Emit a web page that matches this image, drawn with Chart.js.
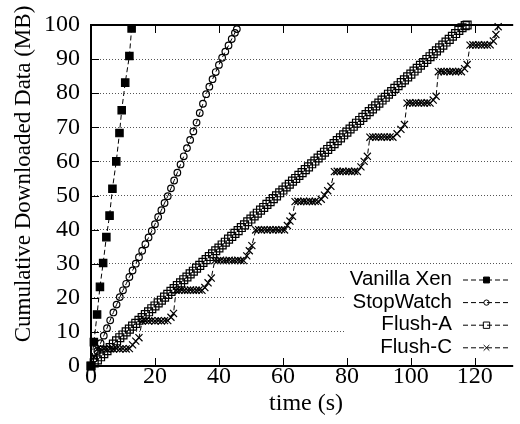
<!DOCTYPE html>
<html><head><meta charset="utf-8">
<script src="https://cdn.jsdelivr.net/npm/chart.js@4/dist/chart.umd.min.js"></script>
<style>html,body{margin:0;padding:0;background:#fff}#wrap{width:520px;height:424px}</style>
</head><body><div id="wrap"><canvas id="c" width="520" height="424"></canvas></div>
<script>
const seriesNames = ['Vanilla Xen', 'StopWatch', 'Flush-A', 'Flush-C'];
const xTickValues = [0, 20, 40, 60, 80, 100, 120];
const yTickValues = [0, 10, 20, 30, 40, 50, 60, 70, 80, 90, 100];
const xTitle = 'time (s)';
const yTitle = 'Cumulative Downloaded Data (MB)';

const vanillaTime = [0, 0.9, 1.9, 2.8, 3.8, 4.8, 5.8, 6.7, 7.9, 8.9, 9.6, 10.7, 12.0, 12.7];
const vanillaData = [0, 7, 15.1, 23.2, 30.2, 37.8, 44.1, 52, 60, 68.3, 75, 83.1, 90.9, 99];

const stopTime = [0,1,2,3,4,5,6,7,8,9,10,11,12,13,14,15,16,17,18,19,20,21,22,23,24,25,26,27,28,29,30,31,32,33,34,35,36,37,38,39,40,41,42,43,44,45,45.6];
const stopData = [0,2.2,4.4,6.7,8.9,11.1,13.4,15.7,18,20.2,22.2,24.1,26.1,28,30,31.9,33.8,35.7,37.7,39.6,41.6,43.7,45.7,47.8,49.8,52.1,54.4,56.7,59.1,61.5,63.9,66.3,68.8,71.4,74.2,76.9,79.7,81.9,84.1,86.2,88.3,90.4,92.2,94,95.9,97.7,98.8];

const flushATime = [0,1,2,3,4,5,6,7,8,9,10,11,12,13,14,15,16,17,18,19,20,21,22,23,24,25,26,27,28,29,30,31,32,33,34,35,36,37,38,39,40,41,42,43,44,45,46,47,48,49,50,51,52,53,54,55,56,57,58,59,60,61,62,63,64,65,66,67,68,69,70,71,72,73,74,75,76,77,78,79,80,81,82,83,84,85,86,87,88,89,90,91,92,93,94,95,96,97,98,99,100,101,102,103,104,105,106,107,108,109,110,111,112,113,114,115,116,117,117.6];
const flushAData = [0,0.9,1.8,2.7,3.6,4.5,5.4,6.4,7.4,8.3,9.1,10,10.8,11.7,12.5,13.4,14.2,15.1,15.9,16.8,17.6,18.5,19.3,20.2,21,21.9,22.7,23.6,24.4,25.3,26.1,27,27.8,28.7,29.5,30.4,31.2,32.1,32.9,33.8,34.6,35.5,36.3,37.2,38,38.9,39.7,40.6,41.4,42.3,43.1,44,44.8,45.7,46.5,47.4,48.2,49.1,49.9,50.8,51.6,52.5,53.3,54.2,55,55.9,56.7,57.6,58.4,59.3,60.1,61,61.8,62.7,63.5,64.4,65.2,66.1,66.9,67.8,68.6,69.5,70.3,71.2,72,72.9,73.7,74.6,75.4,76.3,77.1,78,78.8,79.7,80.5,81.4,82.2,83.1,83.9,84.8,85.6,86.5,87.3,88.2,89,89.9,90.7,91.6,92.4,93.3,94.1,95,95.8,96.7,97.5,98.4,99.2,99.8,100];

const flushCTime = [0,1,2,3,4,5,6,7,8,9,10,11,12,13,14,15,16,17,18,19,20,21,22,23,24,25,25.8,26.6,27.5,28.4,29.3,30.2,31.1,32,32.9,33.8,34.7,35.6,36.6,37.6,38.7,39.6,40.5,41.4,42.3,43.2,44.1,45,45.9,46.8,47.7,48.7,49.5,50.3,51.5,52.4,53.3,54.2,55.1,56,56.9,57.8,58.7,59.6,60.5,61.4,62.2,63,63.8,64.7,65.6,66.5,67.4,68.3,69.2,70.1,71,72,73,74,75,76.1,77,77.9,78.8,79.7,80.6,81.5,82.4,83.3,84.4,85.4,86.4,87.2,88.1,89,89.9,90.8,91.7,92.6,93.5,94.4,95.7,96.9,98,98.8,99.7,100.6,101.5,102.4,103.3,104.2,105.1,106,107,107.9,108.6,109.5,110.4,111.3,112.2,113.1,114,114.9,115.8,116.8,117.6,118.5,119.4,120.3,121.2,122.1,123,123.9,124.8,125.8,126.6,127.3];
const flushCData = [0,2.6,5,5,5.1,5,5.1,5,5.1,5,5.1,5,5.1,6.2,7.3,8.3,13.2,13.3,13.2,13.3,13.2,13.3,13.2,13.3,13.3,14.3,15.4,22.2,22.2,22.3,22.2,22.2,22.3,22.2,22.2,22.3,22.2,23,24.4,25.8,30.9,30.9,31,30.9,30.9,31,30.9,30.9,31,30.9,30.9,32.3,33.8,35.3,39.9,40,39.9,40,39.9,40,39.9,40,39.9,40,39.9,41.2,42.5,43.9,48.2,48.3,48.2,48.3,48.2,48.3,48.2,48.3,48.2,48.9,50.1,51.4,52.7,57,57.1,57,57.1,57,57.1,57,57.1,57,58.4,60,61.5,67.1,67.2,67.1,67.2,67.1,67.2,67.1,67.2,67.1,68.1,69.4,70.8,77.1,77.2,77.1,77.2,77.1,77.2,77.1,77.2,77.1,78,79.1,86.3,86.4,86.3,86.4,86.3,86.4,86.3,86.4,86.3,87.2,88.4,94.1,94.2,94.1,94.2,94.1,94.2,94.1,94.2,95.3,97.2,99.5];

const pts = (t, v) => t.map((x, i) => ({x: x, y: v[i]}));
const SERIF = "'Liberation Serif', 'Times New Roman', serif";
const SANS = "'Liberation Sans', Arial, sans-serif";

const baseDs = {borderColor: '#000', borderWidth: 1, borderDash: [5, 3], pointBorderColor: '#000', pointBorderWidth: 1.2, pointHoverRadius: 0, showLine: true, clip: false, fill: false, tension: 0};
const datasets = [
  Object.assign({}, baseDs, {label: seriesNames[0], data: pts(vanillaTime, vanillaData), pointStyle: 'rect', pointRadius: 5.2, pointBackgroundColor: '#000', order: 4}),
  Object.assign({}, baseDs, {label: seriesNames[1], data: pts(stopTime, stopData), pointStyle: 'circle', pointRadius: 3.3, pointBackgroundColor: 'rgba(0,0,0,0)', order: 3}),
  Object.assign({}, baseDs, {label: seriesNames[2], data: pts(flushATime, flushAData), pointStyle: 'rect', pointRadius: 5.6, pointBackgroundColor: 'rgba(0,0,0,0)', order: 2}),
  Object.assign({}, baseDs, {label: seriesNames[3], data: pts(flushCTime, flushCData), pointStyle: 'crossRot', pointRadius: 5, pointBackgroundColor: 'rgba(0,0,0,0)', order: 1})
];

const legendLayout = {boxLeft: 346, boxTop: 268, textRight: 452, lineStart: 463, lineEnd: 510, firstRow: 279.5, rowStep: 22.6};

const framePlugin = {
  id: 'frame',
  beforeDatasetsDraw(chart) {
    const ctx = chart.ctx, a = chart.chartArea, x = chart.scales.x, y = chart.scales.y;
    ctx.save();
    ctx.fillStyle = '#fff';
    ctx.fillRect(legendLayout.boxLeft, legendLayout.boxTop, a.right - legendLayout.boxLeft, a.bottom - 4 - legendLayout.boxTop);
    ctx.strokeStyle = '#000';
    ctx.lineWidth = 2;
    ctx.beginPath();
    ctx.moveTo(a.right, a.top); ctx.lineTo(a.left, a.top); ctx.lineTo(a.left, a.bottom); ctx.lineTo(a.right, a.bottom);
    ctx.stroke();
    ctx.lineWidth = 1;
    ctx.beginPath();
    xTickValues.forEach(v => {
      const px = Math.round(x.getPixelForValue(v)) + 0.5;
      ctx.moveTo(px, a.bottom); ctx.lineTo(px, a.bottom - 8);
      ctx.moveTo(px, a.top); ctx.lineTo(px, a.top + 8);
    });
    yTickValues.forEach(v => {
      const py = Math.round(y.getPixelForValue(v)) + 0.5;
      ctx.moveTo(a.left, py); ctx.lineTo(a.left + 8, py);
    });
    ctx.stroke();
    ctx.fillStyle = '#000';
    ctx.textAlign = 'center';
    ctx.textBaseline = 'middle';
    ctx.font = '24px ' + SERIF;
    ctx.fillText(xTitle, (a.left + a.right) / 2 + 4, 404);
    ctx.save();
    ctx.translate(24, 174);
    ctx.rotate(-Math.PI / 2);
    ctx.font = '23px ' + SERIF;
    ctx.fillText(yTitle, 0, 0);
    ctx.restore();
    ctx.restore();
  },
  afterDatasetsDraw(chart) {
    const ctx = chart.ctx;
    ctx.save();
    chart.data.datasets.forEach((ds, i) => {
      const ry = legendLayout.firstRow + i * legendLayout.rowStep;
      ctx.fillStyle = '#000';
      ctx.font = '20.5px ' + SANS;
      ctx.textAlign = 'right';
      ctx.textBaseline = 'middle';
      ctx.fillText(ds.label, legendLayout.textRight, ry);
      ctx.strokeStyle = '#000';
      ctx.lineWidth = 1;
      ctx.setLineDash(ds.borderDash);
      ctx.beginPath();
      ctx.moveTo(legendLayout.lineStart, ry + 0.5); ctx.lineTo(legendLayout.lineEnd, ry + 0.5);
      ctx.stroke();
      ctx.setLineDash([]);
      ctx.fillStyle = ds.pointBackgroundColor;
      ctx.strokeStyle = '#000';
      Chart.helpers.drawPoint(ctx, {pointStyle: ds.pointStyle, radius: ds.pointRadius * 0.8, rotation: 0, borderWidth: 1}, (legendLayout.lineStart + legendLayout.lineEnd) / 2, ry + 0.5);
    });
    ctx.restore();
  }
};

new Chart(document.getElementById('c'), {
  type: 'scatter',
  data: {datasets: datasets},
  options: {
    responsive: false,
    animation: false,
    devicePixelRatio: 1,
    layout: {padding: {left: 0, right: 0, top: 25, bottom: 0}},
    plugins: {legend: {display: false}, tooltip: {enabled: false}},
    scales: {
      x: {
        type: 'linear', min: 0, max: 132,
        afterBuildTicks: s => { s.ticks = xTickValues.map(v => ({value: v})); },
        afterFit: s => { s.height = 58; },
        grid: {display: false, drawTicks: false},
        border: {display: false},
        ticks: {color: '#000', padding: -1, maxRotation: 0, autoSkip: false, font: {family: SERIF, size: 24, lineHeight: 1}}
      },
      y: {
        type: 'linear', min: 0, max: 100,
        afterBuildTicks: s => { s.ticks = yTickValues.map(v => ({value: v})); },
        afterFit: s => { s.width = 91; },
        grid: {drawTicks: false, lineWidth: 1, color: c => (c.tick && c.tick.value > 0 && c.tick.value < 100) ? '#555' : 'rgba(0,0,0,0)'},
        border: {display: false, dash: [1, 2]},
        ticks: {color: '#000', padding: 11, autoSkip: false, font: {family: SERIF, size: 24, lineHeight: 1}}
      }
    }
  },
  plugins: [framePlugin]
});
</script>
</body></html>
